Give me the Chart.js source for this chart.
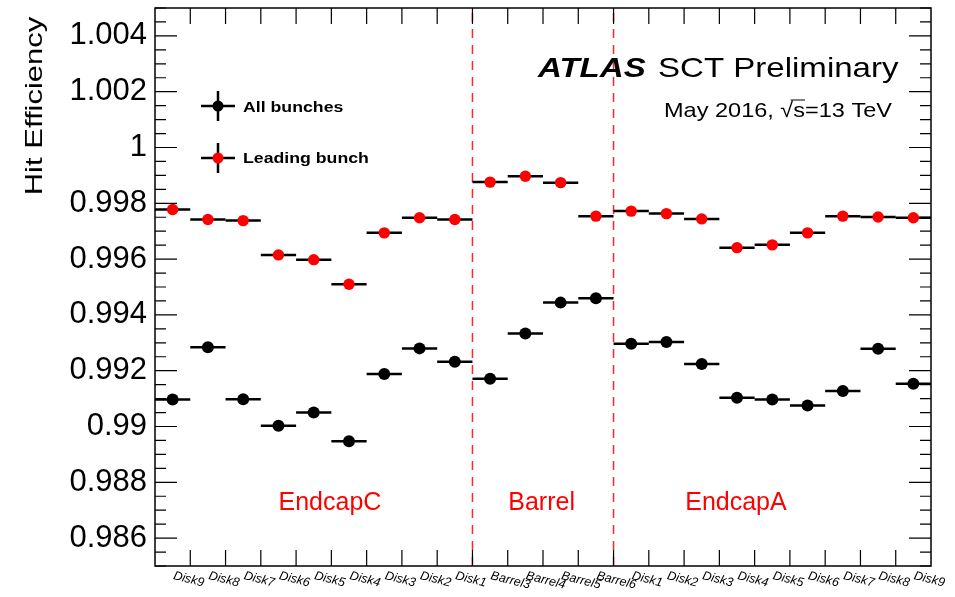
<!DOCTYPE html>
<html>
<head>
<meta charset="utf-8">
<script src="https://cdn.jsdelivr.net/npm/chart.js@4.4.0/dist/chart.umd.min.js"></script>
<style>
  html, body { margin: 0; padding: 0; background: #fff; }
  #wrap { width: 955px; height: 597px; }
</style>
</head>
<body>
<div id="wrap"><canvas id="eff"></canvas></div>
<script>
// SCT modules, EndcapC disks -> barrel layers -> EndcapA disks
const modules = [
  'Disk9', 'Disk8', 'Disk7', 'Disk6', 'Disk5', 'Disk4', 'Disk3', 'Disk2', 'Disk1',
  'Barrel3', 'Barrel4', 'Barrel5', 'Barrel6',
  'Disk1', 'Disk2', 'Disk3', 'Disk4', 'Disk5', 'Disk6', 'Disk7', 'Disk8', 'Disk9'
];

// hit efficiency per module
const allBunches = [
  0.99097, 0.99284, 0.99098, 0.99003, 0.99050, 0.98947, 0.99188, 0.99280, 0.99232,
  0.99171, 0.99333, 0.99444, 0.99460,
  0.99297, 0.99303, 0.99224, 0.99103, 0.99097, 0.99075, 0.99127, 0.99279, 0.99153
];
const leadingBunch = [
  0.99778, 0.99742, 0.99738, 0.99615, 0.99598, 0.99510, 0.99694, 0.99748, 0.99742,
  0.99876, 0.99897, 0.99874, 0.99754,
  0.99772, 0.99763, 0.99744, 0.99641, 0.99651, 0.99694, 0.99754, 0.99751, 0.99748
];

const yTickValues = [0.986, 0.988, 0.99, 0.992, 0.994, 0.996, 0.998, 1, 1.002, 1.004];
const regionNames = ['EndcapC', 'Barrel', 'EndcapA'];
const regionEdges = [8.5, 12.5];   // between Disk1|Barrel3 and Barrel6|Disk1

const FONT = "'Liberation Sans', Helvetica, Arial, sans-serif";

// text with optional rotation and stretch (ROOT-like glyph proportions)
function putText(ctx, str, x, y, o) {
  ctx.save();
  ctx.translate(x, y);
  if (o.rot) ctx.rotate(o.rot);
  ctx.scale(o.sx || 1, o.sy || 1);
  ctx.font = o.font;
  ctx.fillStyle = o.color || '#000';
  ctx.textAlign = o.align || 'left';
  ctx.textBaseline = o.baseline || 'alphabetic';
  ctx.fillText(str, 0, 0);
  ctx.restore();
}

function marker(ctx, cx, cy, color) {
  ctx.save();
  ctx.strokeStyle = '#000';
  ctx.lineWidth = 2.5;
  ctx.beginPath();
  ctx.moveTo(cx - 17, cy); ctx.lineTo(cx + 17, cy);
  ctx.moveTo(cx, cy - 15); ctx.lineTo(cx, cy + 15);
  ctx.stroke();
  ctx.fillStyle = color;
  ctx.beginPath();
  ctx.arc(cx, cy, 5.5, 0, Math.PI * 2);
  ctx.fill();
  ctx.restore();
}

const sctDecor = {
  id: 'sctDecor',
  beforeDatasetsDraw(chart) {
    const { ctx, chartArea: a, scales: { x, y } } = chart;
    const binW = a.width / modules.length;

    // region separators
    ctx.save();
    ctx.strokeStyle = 'rgba(255,0,0,0.85)';
    ctx.lineWidth = 1.5;
    ctx.setLineDash([9, 7]);
    regionEdges.forEach(e => {
      const px = x.getPixelForValue(e);
      ctx.beginPath();
      ctx.moveTo(px, a.bottom);
      ctx.lineTo(px, a.top);
      ctx.stroke();
    });
    ctx.restore();

    // bin-width error bars
    ctx.save();
    ctx.strokeStyle = '#000';
    ctx.lineWidth = 2.5;
    chart.data.datasets.forEach(ds => {
      ds.data.forEach((v, i) => {
        const px = x.getPixelForValue(i);
        const py = y.getPixelForValue(v);
        ctx.beginPath();
        ctx.moveTo(px - binW / 2, py);
        ctx.lineTo(px + binW / 2, py);
        ctx.stroke();
      });
    });
    ctx.restore();
  },
  afterDatasetsDraw(chart) {
    const { ctx, chartArea: a, scales: { x, y } } = chart;
    const binW = a.width / modules.length;

    // frame
    ctx.save();
    ctx.strokeStyle = '#000';
    ctx.lineWidth = 1.5;
    ctx.strokeRect(a.left, a.top, a.width, a.height);

    // y ticks, both sides, minor every 0.0005
    ctx.lineWidth = 1.2;
    ctx.beginPath();
    for (let k = 0; k <= 40; k++) {
      const v = 0.985 + k * 0.0005;
      const py = y.getPixelForValue(v);
      const len = (k % 4 === 2) ? 22 : 11;
      ctx.moveTo(a.left, py); ctx.lineTo(a.left + len, py);
      ctx.moveTo(a.right, py); ctx.lineTo(a.right - len, py);
    }
    // x ticks at bin edges, bottom and top
    for (let i = 1; i < modules.length; i++) {
      const px = a.left + i * binW;
      ctx.moveTo(px, a.bottom); ctx.lineTo(px, a.bottom - 16);
      ctx.moveTo(px, a.top); ctx.lineTo(px, a.top + 16);
    }
    ctx.stroke();
    ctx.restore();

    // bin labels
    modules.forEach((m, i) => {
      putText(ctx, m, x.getPixelForValue(i), a.bottom + 13,
        { font: 'italic 12.5px ' + FONT, rot: 14 * Math.PI / 180 });
    });

    // axis title
    putText(ctx, 'Hit Efficiency', 36, 106,
      { font: '31px ' + FONT, rot: -Math.PI / 2, align: 'center', baseline: 'middle', sy: 0.75 });

    // region names
    const regionPos = [4.46, 10.46, 15.97];
    regionNames.forEach((r, i) => {
      putText(ctx, r, x.getPixelForValue(regionPos[i]), y.getPixelForValue(0.98702),
        { font: '25px ' + FONT, color: '#ff0000', align: 'center' });
    });

    // ATLAS label
    putText(ctx, 'ATLAS', a.left + 383, a.top + 69, { font: 'italic bold 28px ' + FONT, sx: 1.18 });
    putText(ctx, 'SCT Preliminary', a.left + 503, a.top + 69, { font: '28px ' + FONT, sx: 1.18 });

    const info = 'May 2016, \u221As=13 TeV';
    const rx = a.left + 737, by = a.top + 109, sx = 1.12;
    putText(ctx, info, rx, by, { font: '21px ' + FONT, align: 'right', sx });
    ctx.save();
    ctx.font = '21px ' + FONT;
    const tail = ctx.measureText('=13 TeV').width * sx;
    const sW = ctx.measureText('s').width * sx;
    const rootW = ctx.measureText('\u221A').width * sx;
    ctx.strokeStyle = '#000';
    ctx.lineWidth = 1;
    ctx.beginPath();
    ctx.moveTo(rx - tail - sW - rootW * 0.2, by - 17);
    ctx.lineTo(rx - tail, by - 17);
    ctx.stroke();
    ctx.restore();

    // legend
    const lx = a.left + 63;
    marker(ctx, lx, a.top + 98, '#000');
    marker(ctx, lx, a.top + 150, '#ff0000');
    putText(ctx, chart.data.datasets[0].label, lx + 25, a.top + 104, { font: 'bold 15px ' + FONT, sx: 1.18 });
    putText(ctx, chart.data.datasets[1].label, lx + 25, a.top + 155, { font: 'bold 15px ' + FONT, sx: 1.18 });
  }
};

new Chart(document.getElementById('eff'), {
  type: 'line',
  data: {
    labels: modules,
    datasets: [
      {
        label: 'All bunches',
        data: allBunches,
        showLine: false,
        pointRadius: 6,
        pointBorderWidth: 0,
        pointBackgroundColor: '#000',
        pointBorderColor: '#000'
      },
      {
        label: 'Leading bunch',
        data: leadingBunch,
        showLine: false,
        pointRadius: 5.7,
        pointBorderWidth: 0,
        pointBackgroundColor: '#ff0000',
        pointBorderColor: '#ff0000'
      }
    ]
  },
  options: {
    responsive: true,
    maintainAspectRatio: false,
    animation: false,
    layout: { padding: { top: 8, right: 24, left: 0, bottom: 0 } },
    plugins: { legend: { display: false }, tooltip: { enabled: false } },
    scales: {
      x: {
        type: 'category',
        offset: true,
        grid: { display: false, drawTicks: false },
        border: { display: false },
        ticks: { display: false },
        afterFit: s => { s.height = 31; s.paddingLeft = 0; s.paddingRight = 0; }
      },
      y: {
        min: 0.985,
        max: 1.005,
        grid: { display: false, drawTicks: false },
        border: { display: false },
        afterBuildTicks: s => { s.ticks = yTickValues.map(v => ({ value: v })); },
        ticks: {
          padding: 8,
          color: '#000',
          font: { family: FONT, size: 31 },
          callback: v => String(+v.toFixed(3))
        },
        // keep tick labels from pushing the plot frame down
        afterFit: s => { s.width = 155; s.paddingTop = 0; s.paddingBottom = 0; }
      }
    }
  },
  plugins: [sctDecor]
});
</script>
</body>
</html>
